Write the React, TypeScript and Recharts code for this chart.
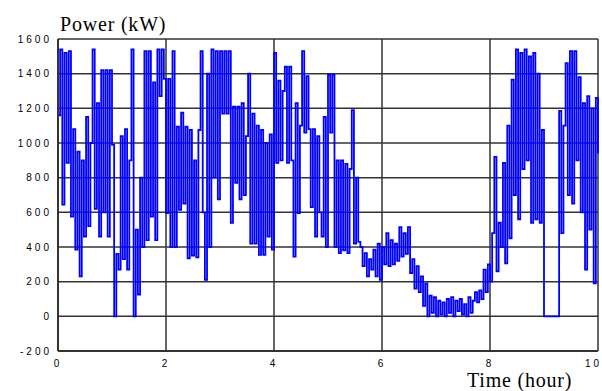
import { LineChart, Line, XAxis, YAxis, CartesianGrid } from 'recharts'

// power samples (kW), one every 0.04 h
const hour0 = [1160, 1540, 645, 1520, 885, 1530, 575, 1080, 385, 950, 230, 900, 460, 1150, 520, 1000, 1540, 620, 1230, 460, 1420, 600, 1420, 460, 1420]
const hour1 = [990, 0, 360, 270, 1040, 330, 1080, 270, 900, 1540, 0, 500, 125, 800, 400, 1530, 440, 1530, 575, 1350, 440, 1540, 1270, 1540, 1370]
const hour2 = [595, 1370, 400, 1530, 400, 1095, 615, 1175, 650, 1095, 335, 1075, 350, 900, 340, 1075, 1530, 600, 210, 1400, 400, 1540, 800, 1530, 675]
const hour3 = [1530, 1170, 1530, 1170, 1530, 540, 1210, 770, 1210, 675, 1230, 700, 1040, 1400, 420, 1170, 420, 1100, 355, 1075, 355, 1000, 460, 1050, 385]
const hour4 = [1520, 885, 1360, 900, 1300, 1440, 885, 1440, 900, 345, 1230, 595, 1100, 1530, 1060, 1385, 1080, 630, 1080, 460, 1040, 600, 460, 1150, 400]
const hour5 = [1395, 1060, 1395, 400, 900, 365, 900, 380, 880, 365, 850, 1190, 420, 800, 430, 400, 290, 365, 230, 330, 270, 385, 230, 420, 210]
const hour6 = [400, 300, 480, 290, 440, 300, 420, 320, 515, 345, 480, 360, 515, 250, 330, 160, 290, 140, 230, 60, 190, 0, 120, 20, 110]
const hour7 = [0, 90, 10, 80, 0, 100, 20, 110, 0, 90, 30, 100, 10, 70, 0, 110, 20, 90, 140, 80, 150, 100, 270, 140, 300]
const hour8 = [200, 480, 920, 260, 540, 400, 885, 305, 1100, 450, 1365, 700, 1540, 560, 1520, 850, 1540, 900, 1500, 540, 1520, 560, 1400, 540, 1075]
const hour9 = [0, 0, 0, 0, 0, 0, 0, 1185, 480, 1100, 1460, 700, 1530, 650, 1530, 900, 1380, 600, 1230, 270, 1270, 500, 1200, 190, 1260]
const lastSample = [940]

const sampleStep = 0.04
const xTicks = [0, 2, 4, 6, 8, 10]
const yTicks = [-200, 0, 200, 400, 600, 800, 1000, 1200, 1400, 1600]

const power = [...hour0, ...hour1, ...hour2, ...hour3, ...hour4, ...hour5, ...hour6, ...hour7, ...hour8, ...hour9, ...lastSample]
const data = power.map((p, i) => ({ t: +(i * sampleStep).toFixed(2), p }))

const tickStyle = { fill: '#000', fontFamily: "'Liberation Sans', Arial, sans-serif", fontSize: 10, letterSpacing: 3 }

function XTick({ x, y, payload }: { x?: number; y?: number; payload?: { value: number } }) {
  const last = payload?.value === 10
  return (
    <text x={last ? (x ?? 0) + 4 : x} y={(y ?? 0) + 8} textAnchor={last ? 'end' : 'middle'} {...tickStyle}>
      {payload?.value}
    </text>
  )
}

const serif = {
  position: 'absolute' as const,
  fontFamily: "'Liberation Serif', 'Times New Roman', serif",
  fontSize: 20,
  letterSpacing: 0.8,
  color: '#000',
  lineHeight: 1,
  whiteSpace: 'nowrap' as const,
}

export default function App() {
  return (
    <div style={{ position: 'fixed', left: 0, top: 0, width: 602, height: 391, background: '#fff', overflow: 'hidden' }}>
      <LineChart width={602} height={391} data={data} margin={{ top: 39, right: 4, left: 0, bottom: 0 }}>
        <CartesianGrid stroke="#333" strokeWidth={1.5} />
        <XAxis
          dataKey="t"
          type="number"
          domain={[0, 10]}
          ticks={xTicks}
          tickLine={false}
          axisLine={{ stroke: '#333', strokeWidth: 2 }}
          height={40}
          tick={<XTick />}
          interval={0}
        />
        <YAxis
          type="number"
          domain={[-200, 1600]}
          ticks={yTicks}
          tickLine={false}
          axisLine={{ stroke: '#333', strokeWidth: 2 }}
          width={58}
          tickMargin={0}
          tick={tickStyle}
          interval={0}
        />
        <Line type="stepAfter" dataKey="p" stroke="#0000ff" strokeWidth={1.8} dot={false} isAnimationActive={false} />
      </LineChart>
      <div style={{ ...serif, left: 60, top: 14 }}>Power (kW)</div>
      <div style={{ ...serif, left: 467, top: 370 }}>Time (hour)</div>
    </div>
  )
}
